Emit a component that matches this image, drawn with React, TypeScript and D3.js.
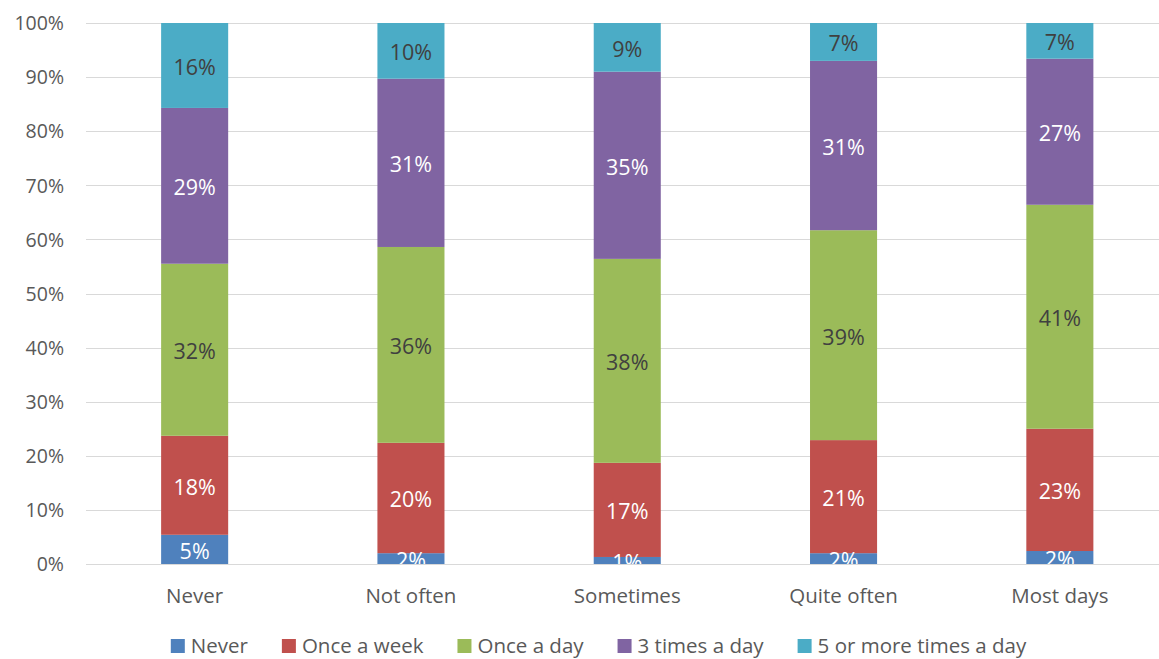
import React, { useEffect, useRef } from "react";
import * as d3 from "d3";

const categories = ["Never", "Not often", "Sometimes", "Quite often", "Most days"];
const seriesNames = ["Never", "Once a week", "Once a day", "3 times a day", "5 or more times a day"];
const seriesColors = ["#4F81BD", "#C0504D", "#9BBB59", "#8064A2", "#4BACC6"];
const labelColors = ["#FFFFFF", "#FFFFFF", "#404040", "#FFFFFF", "#404040"];
// values in percent, per series, per category
const neverValues = [5.4, 2.0, 1.3, 2.0, 2.4];
const onceWeekValues = [18.3, 20.4, 17.4, 20.9, 22.6];
const onceDayValues = [31.8, 36.2, 37.7, 38.8, 41.4];
const threeTimesValues = [28.8, 31.1, 34.6, 31.3, 27.0];
const fivePlusValues = [15.7, 10.3, 9.0, 7.0, 6.6];
const seriesValues = [neverValues, onceWeekValues, onceDayValues, threeTimesValues, fivePlusValues];
const yTicks = [0, 0.1, 0.2, 0.3, 0.4, 0.5, 0.6, 0.7, 0.8, 0.9, 1.0];

const W = 1159;
const H = 659;
const FONT = "'Open Sans', sans-serif";

export default function App() {
  const ref = useRef<SVGSVGElement | null>(null);

  useEffect(() => {
    const svg = d3.select(ref.current);
    svg.selectAll("*").remove();

    const left = 86.5;
    const right = 1168;
    const top = 23;
    const bottom = 564;

    const x = d3
      .scaleBand<string>()
      .domain(categories)
      .range([left, right])
      .paddingInner(0.69)
      .paddingOuter(0.345);
    const y = d3.scaleLinear().domain([0, 1]).range([bottom, top]);

    const rows = categories.map((c, i) => {
      const row: any = { cat: c };
      seriesNames.forEach((s, j) => (row[s] = seriesValues[j][i]));
      return row;
    });
    const totals = categories.map((_, i) => d3.sum(seriesValues, (v) => v[i]));
    const normRows = rows.map((r, i) => {
      const o: any = { cat: r.cat };
      seriesNames.forEach((s) => (o[s] = r[s] / totals[i]));
      return o;
    });
    const stacked = d3.stack<any>().keys(seriesNames)(normRows);

    // gridlines
    svg
      .append("g")
      .selectAll("line")
      .data(yTicks)
      .join("line")
      .attr("x1", 86)
      .attr("x2", W)
      .attr("y1", (d) => Math.round(y(d)) + 0.5)
      .attr("y2", (d) => Math.round(y(d)) + 0.5)
      .attr("stroke", "#D9D9D9")
      .attr("stroke-width", 1.2);

    // y tick labels
    svg
      .append("g")
      .selectAll("text")
      .data(yTicks)
      .join("text")
      .attr("x", 64)
      .attr("y", (d) => y(d))
      .attr("dy", "0.37em")
      .attr("text-anchor", "end")
      .attr("font-family", FONT)
      .attr("font-size", 19.5)
      .attr("fill", "#595959")
      .text((d) => d3.format(".0%")(d));

    const defs = svg.append("defs");
    defs
      .append("clipPath")
      .attr("id", "plotClip")
      .append("rect")
      .attr("x", 0)
      .attr("y", top)
      .attr("width", W)
      .attr("height", bottom - top);

    const g = svg.append("g").attr("clip-path", "url(#plotClip)");

    stacked.forEach((layer, j) => {
      const lg = g.append("g");
      lg.selectAll("rect")
        .data(layer)
        .join("rect")
        .attr("x", (d: any) => x(d.data.cat)!)
        .attr("width", x.bandwidth())
        .attr("y", (d: any) => y(d[1]))
        .attr("height", (d: any) => y(d[0]) - y(d[1]))
        .attr("fill", seriesColors[j]);
    });

    stacked.forEach((layer, j) => {
      g.append("g")
        .selectAll("text")
        .data(layer)
        .join("text")
        .attr("x", (d: any) => x(d.data.cat)! + x.bandwidth() / 2)
        .attr("y", (d: any) => (y(d[0]) + y(d[1])) / 2)
        .attr("dy", "0.44em")
        .attr("text-anchor", "middle")
        .attr("font-family", FONT)
        .attr("font-size", 21.5)
        .attr("fill", labelColors[j])
        .text((d: any, i: number) => Math.round(seriesValues[j][i]) + "%");
    });

    // category labels
    svg
      .append("g")
      .selectAll("text")
      .data(categories)
      .join("text")
      .attr("x", (d) => x(d)! + x.bandwidth() / 2)
      .attr("y", 595)
      .attr("dy", "0.37em")
      .attr("text-anchor", "middle")
      .attr("font-family", FONT)
      .attr("font-size", 20.5)
      .attr("fill", "#595959")
      .text((d) => d);

    // legend
    const lgd = svg.append("g");
    const sq = 14;
    const gapText = 6;
    const gapItem = 34;
    const ly = 645;
    const items = seriesNames.map((s, j) => {
      const t = lgd
        .append("text")
        .attr("font-family", FONT)
        .attr("font-size", 20.5)
        .attr("fill", "#595959")
        .attr("dy", "0.37em")
        .attr("y", ly)
        .text(s);
      const w = (t.node() as SVGTextElement).getComputedTextLength();
      return { t, w, j };
    });
    const total =
      d3.sum(items, (it) => sq + gapText + it.w) + gapItem * (items.length - 1);
    let cx = 598.5 - total / 2;
    items.forEach((it) => {
      lgd
        .append("rect")
        .attr("x", cx)
        .attr("y", ly + 1 - sq / 2)
        .attr("width", sq)
        .attr("height", sq)
        .attr("fill", seriesColors[it.j]);
      it.t.attr("x", cx + sq + gapText);
      cx += sq + gapText + it.w + gapItem;
    });
  }, []);

  return (
    <svg
      ref={ref}
      width={W}
      height={H}
      style={{ position: "absolute", left: 0, top: 0, background: "#FFFFFF" }}
    />
  );
}
